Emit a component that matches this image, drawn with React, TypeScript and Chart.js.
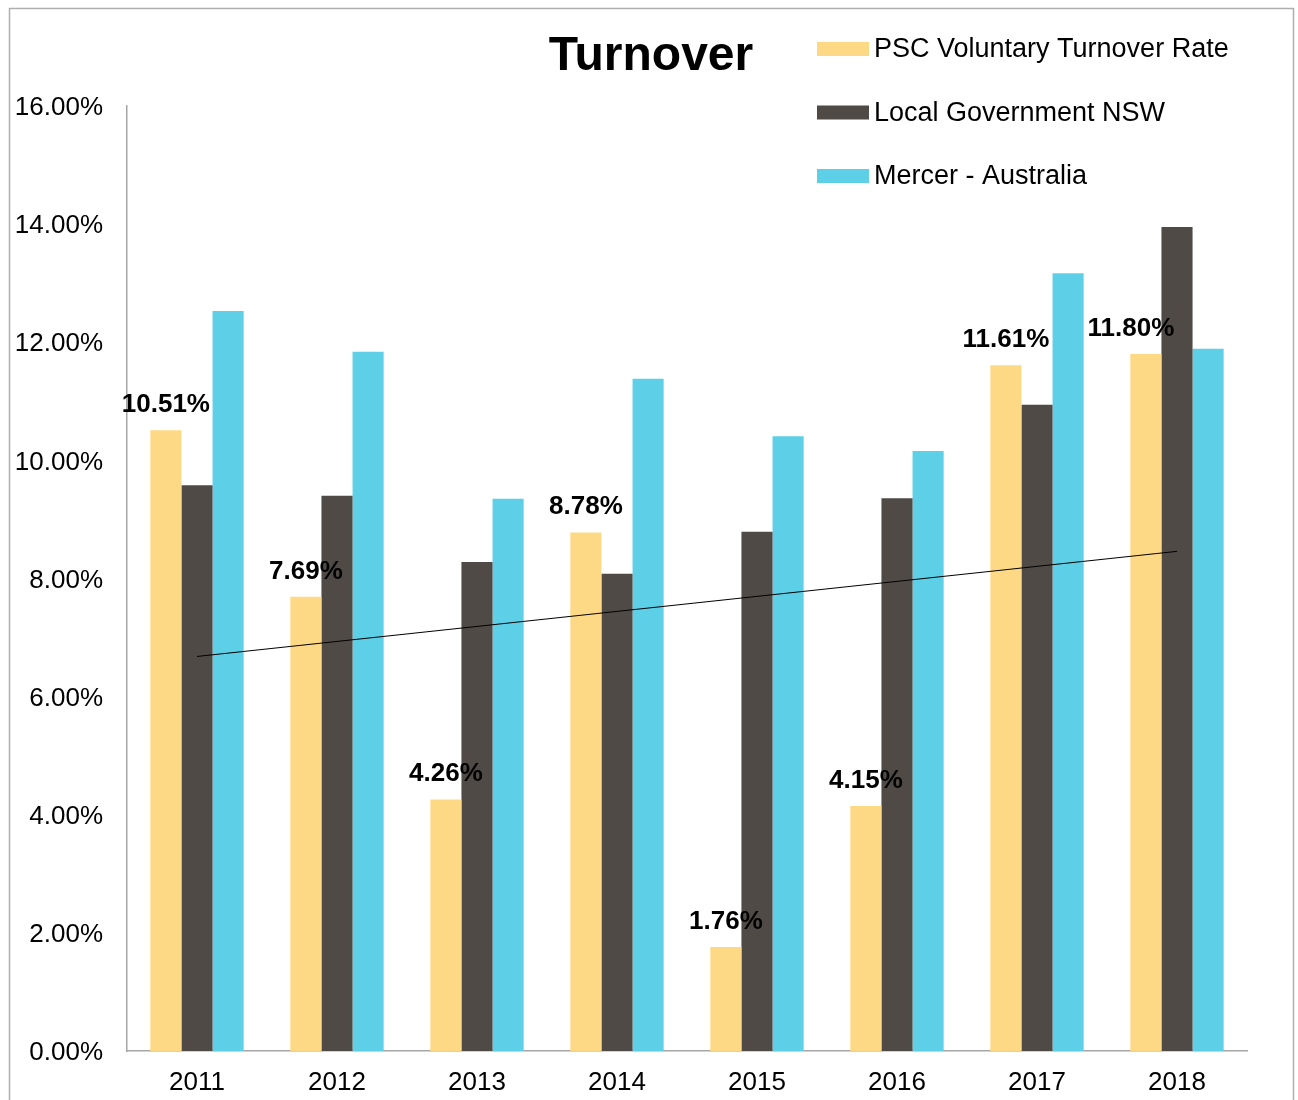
import React, { useEffect, useRef } from "react";
import { Chart, registerables } from "chart.js";

Chart.register(...registerables);

const chartTitle = "Turnover";
const years = ["2011", "2012", "2013", "2014", "2015", "2016", "2017", "2018"];
const pscRate = [10.51, 7.69, 4.26, 8.78, 1.76, 4.15, 11.61, 11.8];
const localGovNSW = [9.58, 9.4, 8.28, 8.08, 8.79, 9.36, 10.94, 13.95];
const mercerAustralia = [12.53, 11.84, 9.35, 11.38, 10.41, 10.16, 13.17, 11.89];
// Linear trendline of the PSC series, read at its two ends
const pscTrend: (number | null)[] = [6.68, null, null, null, null, null, null, 8.46];
const seriesNames = ["PSC Voluntary Turnover Rate", "Local Government NSW", "Mercer - Australia"];
const yMin = 0;
const yMax = 16;
const yStep = 2;

const FONT = '"Liberation Sans", Arial, Helvetica, sans-serif';
const COLORS = ["#FDD985", "#4F4A46", "#5DD0E8"];

const framePlugin = {
  id: "frame",
  afterDraw(chart: any) {
    const ctx = chart.ctx;
    ctx.save();
    ctx.strokeStyle = "#AFAFAF";
    ctx.lineWidth = 1.5;
    ctx.strokeRect(9.5, 8.5, 1284, 1200);
    ctx.restore();
  },
};

const titlePlugin = {
  id: "customTitle",
  afterDraw(chart: any) {
    const ctx = chart.ctx;
    ctx.save();
    ctx.font = `bold 48px ${FONT}`;
    ctx.fillStyle = "#000";
    ctx.textAlign = "center";
    ctx.textBaseline = "middle";
    ctx.fillText(chartTitle, 651, 57);
    ctx.restore();
  },
};

const legendPlugin = {
  id: "customLegend",
  afterDraw(chart: any) {
    const ctx = chart.ctx;
    ctx.save();
    ctx.font = `27px ${FONT}`;
    ctx.textAlign = "left";
    ctx.textBaseline = "middle";
    let k = 0;
    chart.data.datasets.forEach((ds: any) => {
      if (ds.type === "line") return;
      const cy = 49 + k * 63.5;
      k += 1;
      ctx.fillStyle = ds.backgroundColor;
      ctx.fillRect(817, cy - 7, 52, 14);
      ctx.fillStyle = "#000";
      ctx.fillText(ds.label, 874, cy + 1);
    });
    ctx.restore();
  },
};

const dataLabelPlugin = {
  id: "pscLabels",
  afterDatasetsDraw(chart: any) {
    const idx = chart.data.datasets.findIndex((d: any) => d.label === seriesNames[0]);
    const meta = chart.getDatasetMeta(idx);
    const values = chart.data.datasets[idx].data;
    const ctx = chart.ctx;
    ctx.save();
    ctx.font = `bold 26px ${FONT}`;
    ctx.fillStyle = "#000";
    ctx.textAlign = "center";
    ctx.textBaseline = "alphabetic";
    meta.data.forEach((bar: any, i: number) => {
      const dx = i === meta.data.length - 1 ? -15 : 0;
      ctx.fillText(Number(values[i]).toFixed(2) + "%", bar.x + dx, bar.y - 18);
    });
    ctx.restore();
  },
};

export default function App() {
  const canvasRef = useRef<HTMLCanvasElement | null>(null);

  useEffect(() => {
    if (!canvasRef.current) return;
    const chart = new Chart(canvasRef.current, {
      type: "bar",
      data: {
        labels: years,
        datasets: [
          {
            type: "line",
            label: "Trend",
            data: pscTrend,
            borderColor: "#000",
            borderWidth: 1,
            pointRadius: 0,
            spanGaps: true,
            fill: false,
            order: -1,
          } as any,
          {
            label: seriesNames[0],
            data: pscRate,
            backgroundColor: COLORS[0],
            order: 1,
          },
          {
            label: seriesNames[1],
            data: localGovNSW,
            backgroundColor: COLORS[1],
            order: 2,
          },
          {
            label: seriesNames[2],
            data: mercerAustralia,
            backgroundColor: COLORS[2],
            order: 3,
          },
        ],
      },
      options: {
        responsive: false,
        animation: false,
        devicePixelRatio: 1,
        datasets: {
          bar: { categoryPercentage: 3 / 4.5, barPercentage: 1 },
        },
        layout: { padding: { top: 106, right: 51, left: 0, bottom: 0 } },
        plugins: {
          legend: { display: false },
          title: { display: false },
          tooltip: { enabled: false },
        },
        scales: {
          x: {
            grid: { display: false, drawTicks: false },
            border: { display: true, color: "#A6A6A6", width: 1.5 },
            ticks: {
              color: "#000",
              font: { family: FONT, size: 26 },
              padding: 16,
            },
            afterFit(scale: any) {
              scale.height = 49;
            },
          },
          y: {
            min: yMin,
            max: yMax,
            grid: { display: false, drawTicks: false },
            border: { display: true, color: "#A6A6A6", width: 1.5 },
            ticks: {
              stepSize: yStep,
              color: "#000",
              font: { family: FONT, size: 26 },
              padding: 24,
              labelOffset: 2,
              callback: (v: any) => Number(v).toFixed(2) + "%",
            },
            afterFit(scale: any) {
              scale.width = 127;
            },
          },
        },
      },
      plugins: [dataLabelPlugin, legendPlugin, titlePlugin, framePlugin],
    });
    return () => chart.destroy();
  }, []);

  return (
    <div style={{ position: "absolute", left: 0, top: 0, width: 1298, height: 1100, background: "#fff" }}>
      <canvas ref={canvasRef} width={1298} height={1100} style={{ display: "block" }} />
    </div>
  );
}
